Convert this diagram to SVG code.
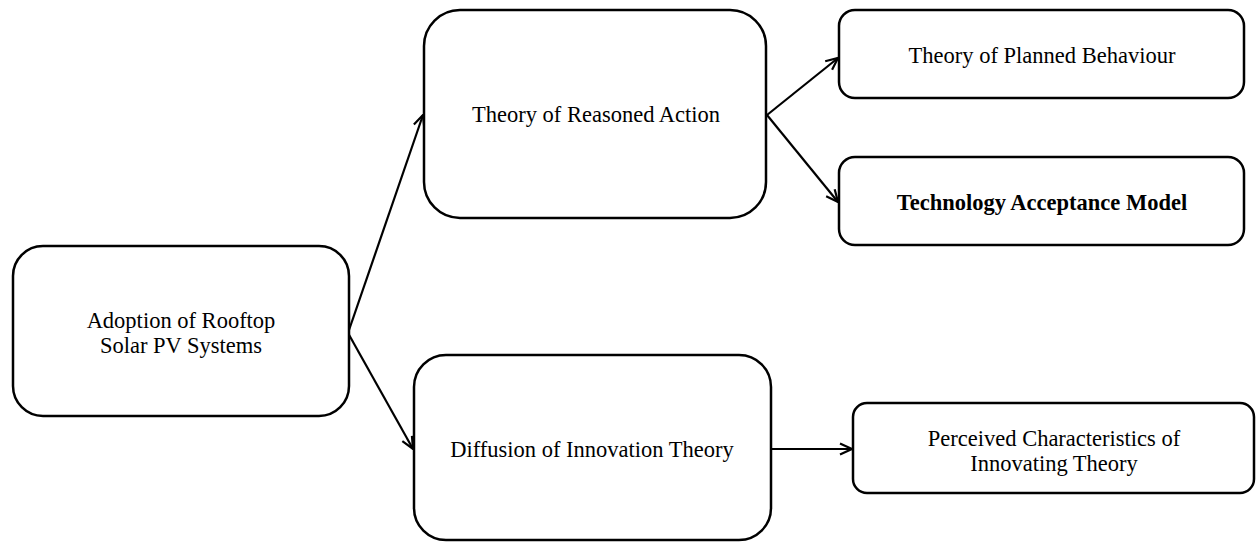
<svg xmlns="http://www.w3.org/2000/svg" width="1256" height="542" viewBox="0 0 1256 542">
<style>
.box{fill:#fff;stroke:#000;stroke-width:2.5}
.t{font-family:"Liberation Serif","Times New Roman",serif;font-size:22.5px;fill:#000;text-anchor:middle}
.b{font-weight:bold}
.c{fill:none;stroke:#000;stroke-width:2.2}
</style>
<defs>
<marker id="ah" viewBox="0 0 14 14" refX="13" refY="7" markerWidth="14" markerHeight="14" markerUnits="userSpaceOnUse" orient="auto">
<path d="M1,1.5 L13,7 L1,12.5" fill="none" stroke="#000" stroke-width="2.2"/>
</marker>
</defs>
<rect width="1256" height="542" fill="#fff"/>
<g id="connectors">
<line class="c" x1="348" y1="333" x2="423" y2="115" marker-end="url(#ah)"/>
<line class="c" x1="348" y1="333" x2="413" y2="449" marker-end="url(#ah)"/>
<line class="c" x1="767" y1="115" x2="838" y2="58" marker-end="url(#ah)"/>
<line class="c" x1="767" y1="115" x2="838" y2="202" marker-end="url(#ah)"/>
<line class="c" x1="771" y1="449" x2="852" y2="449" marker-end="url(#ah)"/>
</g>
<g id="node-adoption">
<rect class="box" x="13" y="246" width="336" height="170" rx="30" ry="30"/>
<text class="t" x="181" y="328">Adoption of Rooftop</text>
<text class="t" x="181" y="353">Solar PV Systems</text>
</g>
<g id="node-tra">
<rect class="box" x="424" y="10" width="342" height="208" rx="36" ry="36"/>
<text class="t" x="596" y="122">Theory of Reasoned Action</text>
</g>
<g id="node-tpb">
<rect class="box" x="839" y="10" width="405" height="88" rx="16" ry="16"/>
<text class="t" x="1042" y="63">Theory of Planned Behaviour</text>
</g>
<g id="node-tam">
<rect class="box" x="839" y="157" width="405" height="88" rx="16" ry="16"/>
<text class="t b" x="1042" y="210">Technology Acceptance Model</text>
</g>
<g id="node-doi">
<rect class="box" x="414" y="355" width="357" height="185" rx="32" ry="32"/>
<text class="t" x="592" y="457">Diffusion of Innovation Theory</text>
</g>
<g id="node-pci">
<rect class="box" x="853" y="403" width="401" height="90" rx="14" ry="14"/>
<text class="t" x="1054" y="446">Perceived Characteristics of</text>
<text class="t" x="1054" y="471">Innovating Theory</text>
</g>
</svg>
